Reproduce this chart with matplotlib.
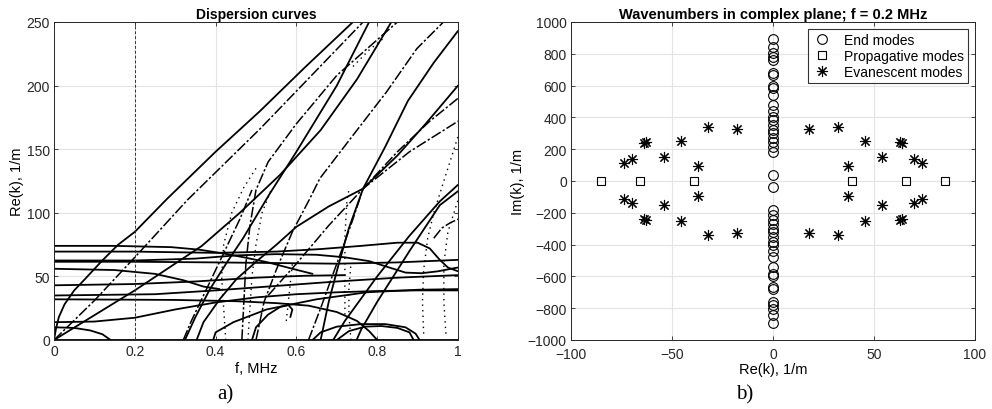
import matplotlib
matplotlib.use("Agg")
import matplotlib.pyplot as plt
import numpy as np

plt.rcParams['font.family'] = ['Liberation Sans', 'DejaVu Sans']

# ---------------- Panel a) dispersion curves (f in MHz, Re(k) in 1/m) ----------------
# solid branches
curve_A_f = [0, 0.005, 0.012, 0.026, 0.05, 0.077, 0.118, 0.159, 0.2, 0.28, 0.4, 0.51, 0.62, 0.74]
curve_A_k = [0, 9, 18, 28, 39, 48, 62, 75, 85, 111, 148, 180, 214, 250]
curve_C_f = [0, 0.2, 0.366, 0.46, 0.56, 0.66, 0.75, 0.835]
curve_C_k = [0, 39, 74, 100, 130, 165, 205, 250]
curve_D_f = [0.324, 0.35, 0.386, 0.428, 0.468, 0.534, 0.6, 0.7, 0.78]
curve_D_k = [0, 18, 40, 61, 80, 115, 148, 200, 250]
curve_R1_f = [0.353, 0.37, 0.41, 0.452, 0.502, 0.551, 0.6, 0.68, 0.765, 0.85, 0.92, 1.0]
curve_R1_k = [0, 14, 32, 48, 62, 75, 89, 105, 119, 145, 170, 200]
curve_H_f = [0.66, 0.68, 0.705, 0.73, 0.765, 0.82, 0.876, 0.94, 1.0]
curve_H_k = [0, 30, 60, 88, 119, 152, 188, 218, 243]
curve_L1_f = [0.691, 0.72, 0.8, 0.88, 0.955, 1.0]
curve_L1_k = [0, 15, 50, 82, 109, 122]
curve_L2_f = [0.749, 0.76, 0.8, 0.88, 0.955, 1.0]
curve_L2_k = [0, 8, 30, 70, 106, 117]
curve_H1_f = [0, 0.15, 0.29, 0.36, 0.42, 0.47, 0.53, 0.59, 0.64]
curve_H1_k = [74, 74, 73, 71, 68, 65, 61, 56, 52]
curve_H2_f = [0, 0.2, 0.4, 0.55, 0.66, 0.76, 0.85, 0.9, 0.93, 0.955, 0.975, 1.0]
curve_H2_k = [69.5, 69.5, 68.5, 69.5, 71.5, 74, 76.5, 76.5, 72, 63, 57, 54]
curve_H3_f = [0, 0.2, 0.35, 0.45, 0.55, 0.65, 0.72, 0.78, 0.83, 0.87, 0.91, 0.95, 1.0]
curve_H3_k = [62.5, 62.5, 64, 66.5, 67.5, 67, 65, 62, 57, 53, 52.5, 54, 57]
curve_H4_f = [0, 0.2, 0.4, 0.55, 0.7, 0.85, 1.0]
curve_H4_k = [61.5, 61.5, 61, 60.5, 60, 61, 63]
curve_H5_f = [0, 0.15, 0.25, 0.32, 0.37, 0.41]
curve_H5_k = [56, 55, 52, 47, 42, 40]
curve_H6_f = [0, 0.2, 0.35, 0.5, 0.62, 0.72]
curve_H6_k = [43, 44, 46, 49, 50.5, 51]
curve_H7_f = [0, 0.25, 0.4, 0.55, 0.7, 0.85, 1.0]
curve_H7_k = [35, 36, 39, 42.5, 46, 49, 51]
curve_H8_f = [0, 0.3, 0.45, 0.55, 0.63, 0.7, 0.75, 0.78, 0.8]
curve_H8_k = [32, 31.5, 30.5, 29, 27, 22, 15, 7, 0]
curve_H9_f = [0, 0.1, 0.2, 0.3, 0.4, 0.5, 0.6, 0.7, 0.8, 0.9, 1.0]
curve_H9_k = [14, 14.5, 17.5, 24, 29.5, 33.5, 36, 37.5, 38.5, 39, 39]
curve_R2_f = [0.394, 0.40, 0.444, 0.526, 0.65, 0.774, 0.9, 1.0]
curve_R2_k = [0, 6, 14, 24, 32, 37.5, 39.5, 40]
curve_arc0_f = [0, 0.05, 0.09, 0.12, 0.14]
curve_arc0_k = [10, 9.5, 7.5, 4.5, 0]
curve_arc1_f = [0.64, 0.66, 0.7, 0.76, 0.82, 0.87, 0.895, 0.905]
curve_arc1_k = [0, 6, 10.5, 12.5, 12.5, 10, 5, 0]
curve_arc2_f = [0.70, 0.73, 0.77, 0.81, 0.85, 0.88, 0.89]
curve_arc2_k = [0, 7, 10.5, 11, 9.5, 6, 0]
curve_loop_f = [0.49, 0.5, 0.53, 0.56, 0.58, 0.59, 0.585]
curve_loop_k = [0, 10, 20, 26, 27.5, 24, 18]
curve_bottom_f = [0, 1]
curve_bottom_k = [0, 0]

# broken (dash-dot) branches
curve_B_f = [0, 0.1, 0.2, 0.33, 0.51, 0.765]
curve_B_k = [0, 31, 65, 110, 166, 250]
curve_F_f = [0.465, 0.47, 0.475, 0.485, 0.5, 0.53, 0.6, 0.7, 0.85]
curve_F_k = [0, 30, 60, 90, 118, 140, 170, 208, 250]
curve_G_f = [0.5, 0.52, 0.55, 0.59, 0.633, 0.658, 0.733, 0.823, 0.898, 0.964]
curve_G_k = [0, 30, 55, 85, 111, 127, 158, 195, 229, 250]
curve_J_f = [0.63, 0.66, 0.7, 0.74, 0.765, 0.85, 0.93, 1.0]
curve_J_k = [0, 25, 60, 95, 119, 148, 172, 190]
curve_K_f = [0.53, 0.6, 0.68, 0.765, 0.88, 1.0]
curve_K_k = [35, 60, 90, 119, 148, 172]
curve_V9_f = [0.94, 0.96, 0.98, 1.0]
curve_V9_k = [80, 88, 92, 95]
curve_P_f = [0.32, 0.34, 0.37, 0.4, 0.43, 0.46, 0.49]
curve_P_k = [0, 15, 35, 55, 75, 95, 118]

# sparse dotted branches
curve_V1_f = [0.425, 0.42, 0.415, 0.42, 0.44, 0.47, 0.5]
curve_V1_k = [0, 25, 50, 75, 100, 120, 135]
curve_V3_f = [0.48, 0.485, 0.49, 0.5, 0.515, 0.54]
curve_V3_k = [0, 25, 50, 75, 100, 120]
curve_V4_f = [0.575, 0.58, 0.585, 0.59]
curve_V4_k = [15, 30, 45, 60]
curve_V5_f = [0.72, 0.72, 0.72, 0.725, 0.73]
curve_V5_k = [20, 50, 80, 110, 118]
curve_V6_f = [0.735, 0.73, 0.73, 0.735]
curve_V6_k = [0, 20, 40, 60]
curve_V7_f = [0.915, 0.912, 0.915, 0.925, 0.94, 0.96, 0.98, 1.0]
curve_V7_k = [5, 30, 55, 80, 100, 120, 140, 160]
curve_V8_f = [0.97, 0.965, 0.965, 0.975, 0.99, 1.0]
curve_V8_k = [5, 30, 60, 85, 100, 110]
curve_V10_f = [0.74, 0.78, 0.815]
curve_V10_k = [215, 228, 237]

solid_curves = [
    (curve_A_f, curve_A_k), (curve_C_f, curve_C_k), (curve_D_f, curve_D_k),
    (curve_R1_f, curve_R1_k), (curve_H_f, curve_H_k), (curve_L1_f, curve_L1_k),
    (curve_L2_f, curve_L2_k), (curve_H1_f, curve_H1_k), (curve_H2_f, curve_H2_k),
    (curve_H3_f, curve_H3_k), (curve_H4_f, curve_H4_k), (curve_H5_f, curve_H5_k),
    (curve_H6_f, curve_H6_k), (curve_H7_f, curve_H7_k), (curve_H8_f, curve_H8_k),
    (curve_H9_f, curve_H9_k), (curve_R2_f, curve_R2_k), (curve_arc0_f, curve_arc0_k),
    (curve_arc1_f, curve_arc1_k), (curve_arc2_f, curve_arc2_k), (curve_loop_f, curve_loop_k),
    (curve_bottom_f, curve_bottom_k),
]
broken_curves = [
    (curve_B_f, curve_B_k), (curve_F_f, curve_F_k), (curve_G_f, curve_G_k),
    (curve_J_f, curve_J_k), (curve_K_f, curve_K_k), (curve_V9_f, curve_V9_k),
    (curve_P_f, curve_P_k),
]
dotted_curves = [
    (curve_V1_f, curve_V1_k), (curve_V3_f, curve_V3_k), (curve_V4_f, curve_V4_k),
    (curve_V5_f, curve_V5_k), (curve_V6_f, curve_V6_k), (curve_V7_f, curve_V7_k),
    (curve_V8_f, curve_V8_k), (curve_V10_f, curve_V10_k),
]

f_marker = 0.2

# ---------------- Panel b) wavenumbers in complex plane ----------------
end_im_pos = [890, 840, 805, 780, 760, 680, 665, 595, 585, 540, 480, 440, 400,
              385, 355, 320, 300, 270, 245, 215, 180, 40]
prop_re = [-85, -66, -39, 39, 66, 85]
evan_re_pos = [18, 32, 45.5, 63, 64, 54, 37, 70, 74]
evan_im_pos = [328, 342, 252, 248, 238, 148, 93, 138, 112]

end_re = [0] * (2 * len(end_im_pos))
end_im = end_im_pos + [-v for v in end_im_pos]
prop_im = [0] * len(prop_re)
evan_re = []
evan_im = []
for sr in (1, -1):
    for si in (1, -1):
        for r, i in zip(evan_re_pos, evan_im_pos):
            evan_re.append(sr * r)
            evan_im.append(si * i)

# ---------------- Drawing ----------------
fig = plt.figure(figsize=(9.92, 4.10), dpi=100)
ax1 = fig.add_axes([54 / 992, 1 - 341 / 410, 404 / 992, 318 / 410])
ax2 = fig.add_axes([571 / 992, 1 - 341 / 410, 404 / 992, 318 / 410])

for f, k in solid_curves:
    ax1.plot(f, k, color='black', lw=1.3, solid_capstyle='round')
for f, k in broken_curves:
    ax1.plot(f, k, color='black', lw=1.1, linestyle=(0, (7, 1.5, 1.5, 1.5)))
for f, k in dotted_curves:
    ax1.plot(f, k, color='black', lw=1.0, linestyle=(0, (1, 3)))
ax1.axvline(f_marker, color='#333333', lw=0.7, linestyle=(0, (3, 2)))

ax1.set_xlim(0, 1)
ax1.set_ylim(0, 250)
ax1.set_xticks([0, 0.2, 0.4, 0.6, 0.8, 1.0])
ax1.set_xticklabels(['0', '0.2', '0.4', '0.6', '0.8', '1'])
ax1.set_yticks([0, 50, 100, 150, 200, 250])
ax1.set_title('Dispersion curves', fontsize=10, fontweight='bold', pad=3)
ax1.set_xlabel('f, MHz', fontsize=10.5, labelpad=2)
ax1.set_ylabel('Re(k), 1/m', fontsize=10.5, labelpad=2)

ax2.plot(end_re, end_im, linestyle='none', marker='o', markersize=7,
         markerfacecolor='none', markeredgecolor='black', markeredgewidth=0.8,
         label='End modes')
ax2.plot(prop_re, prop_im, linestyle='none', marker='s', markersize=5.5,
         markerfacecolor='none', markeredgecolor='black', markeredgewidth=0.8,
         label='Propagative modes')
ax2.plot(evan_re, evan_im, linestyle='none', marker=(8, 2, 0), markersize=8,
         color='black', markeredgewidth=0.8, label='Evanescent modes')
ax2.set_xlim(-100, 100)
ax2.set_ylim(-1000, 1000)
ax2.set_xticks([-100, -50, 0, 50, 100])
ax2.set_yticks(list(range(-1000, 1001, 200)))
ax2.set_title('Wavenumbers in complex plane; f = 0.2 MHz', fontsize=10.5,
              fontweight='bold', pad=3)
ax2.set_xlabel('Re(k), 1/m', fontsize=10.5, labelpad=1)
ax2.set_ylabel('Im(k), 1/m', fontsize=10.5, labelpad=2)
leg = ax2.legend(loc='upper right', fontsize=10, frameon=True, fancybox=False,
                 edgecolor='black', borderpad=0.3, handletextpad=0.8,
                 labelspacing=0.15, borderaxespad=0.5, handlelength=1.5)
leg.get_frame().set_linewidth(0.8)

for ax in (ax1, ax2):
    ax.grid(True, color='#e3e3e3', lw=0.8)
    ax.set_axisbelow(True)
    ax.tick_params(direction='in', top=True, right=True, labelsize=10,
                   length=3, width=0.6, colors='#262626', pad=3)
    for sp in ax.spines.values():
        sp.set_color('#262626')
        sp.set_linewidth(0.7)
ax2.tick_params(axis='x', pad=5)

fig.text(225 / 992, 1 - 395 / 410, 'a)', fontsize=15, family=['Liberation Serif'],
         ha='center', va='center')
fig.text(745 / 992, 1 - 395 / 410, 'b)', fontsize=15, family=['Liberation Serif'],
         ha='center', va='center')

fig.savefig('out.png', dpi=100)
